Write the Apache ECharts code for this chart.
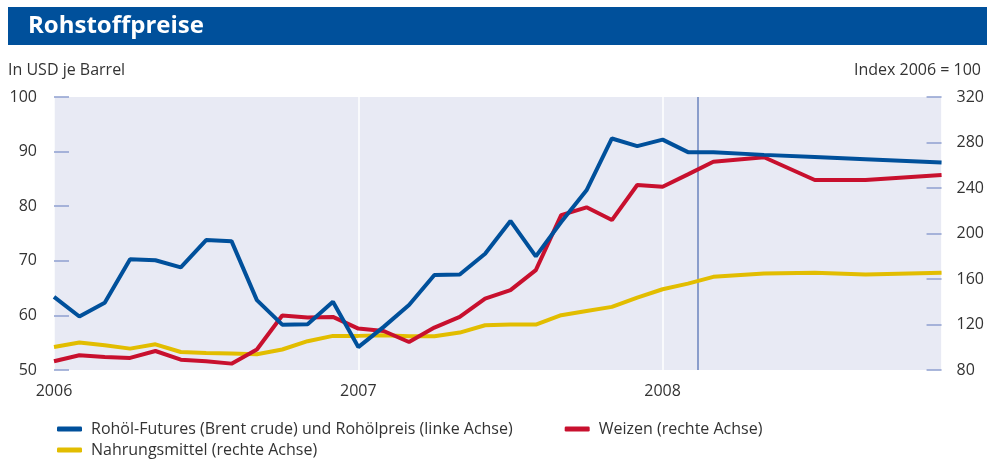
<!DOCTYPE html>
<html>
<head>
<meta charset="utf-8">
<script src="https://cdn.jsdelivr.net/npm/echarts@6/dist/echarts.min.js"></script>
<style>
  html, body { margin: 0; padding: 0; background: #fff; }
  #chart { width: 987px; height: 459px; }
</style>
</head>
<body>
<div id="chart"></div>
<script>
// monthly index, 0 = Jan 2006 ... 35 = Dec 2008
const months = [];
for (let y = 2006; y <= 2008; y++) {
  for (let m = 1; m <= 12; m++) months.push(y + '-' + (m < 10 ? '0' + m : m));
}
const yearTicks = { 0: '2006', 12: '2007', 24: '2008' };

// Rohöl, USD je Barrel (linke Achse); null = no point read in the forecast part
const oil = [63.4, 59.8, 62.3, 70.3, 70.1, 68.8, 73.8, 73.6, 62.8, 58.3, 58.4, 62.5,
  54.2, 57.9, 61.9, 67.4, 67.5, 71.3, 77.3, 70.8, 77.1, 82.9, 92.4, 91.0,
  92.2, 89.9, 89.9, null, 89.4, null, 89.0, null, 88.6, null, null, 88.0];
// Weizen, Index 2006 = 100 (rechte Achse)
const wheat = [87.7, 93.0, 91.5, 90.6, 96.7, 89.1, 87.7, 85.6, 98.0, 127.9, 126.1, 126.7,
  116.4, 114.3, 104.6, 117.3, 126.7, 142.8, 150.2, 167.8, 216.2, 223.0, 211.8, 242.6,
  241.1, 252.0, 263.1, null, 267.0, null, 247.0, null, 247.0, null, null, 251.4];
// Nahrungsmittel, Index 2006 = 100 (rechte Achse)
const food = [100.2, 104.1, 101.7, 98.8, 102.6, 95.8, 95.0, 94.4, 93.8, 98.0, 105.3, 110.0,
  110.0, 110.5, 109.7, 109.7, 112.9, 119.3, 119.9, 119.9, 128.2, 131.9, 135.5, 143.7,
  151.0, 155.9, 161.9, null, 164.9, null, 165.4, null, 164.0, null, null, 165.4];

// start of the forecast (mid Feb 2008), in month index
const forecastStart = 25.4;

const names = {
  oil: 'Rohöl-Futures (Brent crude) und Rohölpreis (linke Achse)',
  wheat: 'Weizen (rechte Achse)',
  food: 'Nahrungsmittel (rechte Achse)',
};

const font = 'Open Sans';
const textColor = '#333';
const tickColor = '#8fa0cf';

const pairs = arr => arr.map((v, i) => [i, v]);

const chart = echarts.init(document.getElementById('chart'));

const legendBase = {
  icon: 'roundRect',
  itemWidth: 25,
  itemHeight: 5,
  itemGap: 52,
  left: 52,
  textStyle: { fontFamily: font, fontSize: 16, color: textColor, padding: [0, 0, 0, 4] },
};

chart.setOption({
  animation: false,
  graphic: [
    { type: 'rect', shape: { x: 8, y: 7, width: 979, height: 38 }, style: { fill: '#00509b' }, z: 0 },
  ],
  title: [
    {
      text: 'Rohstoffpreise',
      left: 23, top: 9,
      textStyle: { fontFamily: font, fontSize: 24, fontWeight: 'bold', color: '#fff' },
      z: 10,
    },
    {
      text: 'In USD je Barrel',
      left: 3, top: 57,
      textStyle: { fontFamily: font, fontSize: 16, fontWeight: 'normal', color: textColor },
    },
    {
      text: 'Index 2006 = 100',
      right: 1, top: 57,
      textStyle: { fontFamily: font, fontSize: 16, fontWeight: 'normal', color: textColor },
    },
  ],
  legend: [
    Object.assign({}, legendBase, { top: 416, data: [names.oil, names.wheat] }),
    Object.assign({}, legendBase, { top: 437, data: [names.food] }),
  ],
  grid: {
    left: 54, right: 44, top: 97, bottom: 89,
    show: true, backgroundColor: '#e8eaf4', borderWidth: 0,
  },
  xAxis: {
    type: 'value',
    min: 0, max: 35, interval: 12,
    axisLine: { show: false },
    axisTick: { show: false },
    splitLine: { show: true, lineStyle: { color: '#fff', width: 1.5 } },
    axisLabel: {
      margin: 13,
      fontFamily: font, fontSize: 16, color: textColor,
      formatter: v => yearTicks[v] || '',
    },
  },
  yAxis: [
    {
      type: 'value', min: 50, max: 100, interval: 10,
      axisLine: { show: false },
      axisTick: { show: true, inside: true, length: 15, lineStyle: { color: tickColor, width: 1.5 } },
      splitLine: { show: false },
      axisLabel: { margin: 17, fontFamily: font, fontSize: 16, color: textColor },
    },
    {
      type: 'value', min: 80, max: 320, interval: 40,
      axisLine: { show: false },
      axisTick: { show: true, inside: true, length: 15, lineStyle: { color: tickColor, width: 1.5 } },
      splitLine: { show: false },
      axisLabel: { margin: 15, fontFamily: font, fontSize: 16, color: textColor },
    },
  ],
  series: [
    {
      name: names.food, type: 'line', yAxisIndex: 1,
      data: pairs(food), connectNulls: true, showSymbol: false,
      lineStyle: { color: '#e2bd00', width: 4 }, itemStyle: { color: '#e2bd00' },
      z: 2,
    },
    {
      name: names.wheat, type: 'line', yAxisIndex: 1,
      data: pairs(wheat), connectNulls: true, showSymbol: false,
      lineStyle: { color: '#c8102e', width: 4 }, itemStyle: { color: '#c8102e' },
      z: 3,
    },
    {
      name: names.oil, type: 'line', yAxisIndex: 0,
      data: pairs(oil), connectNulls: true, showSymbol: false,
      lineStyle: { color: '#00509b', width: 4 }, itemStyle: { color: '#00509b' },
      z: 4,
      markLine: {
        silent: true, symbol: 'none', label: { show: false },
        lineStyle: { color: '#8a9dcb', width: 2, type: 'solid' },
        data: [{ xAxis: forecastStart }],
        z: 1,
      },
    },
  ],
});
</script>
</body>
</html>
